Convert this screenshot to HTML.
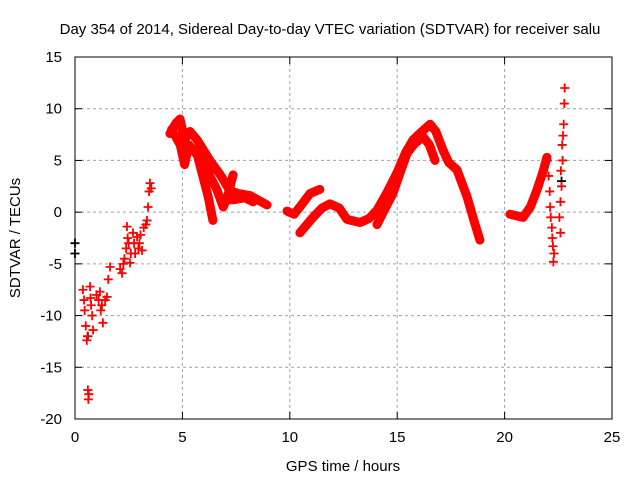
<!DOCTYPE html>
<html><head><meta charset="utf-8"><style>
body{margin:0;background:#fff;width:640px;height:480px;overflow:hidden}
svg{font-family:"Liberation Sans",sans-serif}
</style></head><body>
<svg id="chart" width="640" height="480">
<text x="330" y="34" font-size="15" text-anchor="middle">Day 354 of 2014, Sidereal Day-to-day VTEC variation (SDTVAR) for receiver salu</text>
<g id="grid"></g>
<g id="marks"></g>
<rect x="75" y="57" width="537" height="362" fill="none" stroke="#000" stroke-width="1"/>
<g id="ticks"></g>
<text x="343" y="471" font-size="15" text-anchor="middle">GPS time / hours</text>
<text transform="translate(20,238) rotate(-90)" font-size="15" text-anchor="middle">SDTVAR / TECUs</text>
</svg>
<script>
const xTicks=[0,5,10,15,20,25];
const yTicks=[15,10,5,0,-5,-10,-15,-20];
const trackA1=[[4.42,7.6],[4.7,8.6],[4.89,9.0],[5.1,7.0],[5.35,7.8],[5.68,7.0],[6.28,5.0],[6.8,3.5],[7.2,2.1],[7.6,1.8],[8.15,1.6],[8.94,0.7]];
const trackA2=[[4.5,8.0],[4.9,6.5],[5.1,4.6],[5.3,6.5],[5.7,5.5],[5.96,3.4],[6.2,1.5],[6.42,-0.8]];
const trackA3=[[5.6,6.0],[6.1,4.2],[6.6,2.2],[6.9,0.5],[7.1,1.5],[7.36,3.6]];
const trackA4=[[6.9,1.2],[7.4,1.2],[7.9,1.4],[8.3,1.0]];
const trackB=[[9.87,0.1],[10.2,-0.2],[10.47,0.5],[10.94,1.8],[11.4,2.2]];
const trackC=[[10.47,-2.0],[11.08,-0.5],[11.5,0.4],[11.87,0.8],[12.3,0.4],[12.66,-0.7],[13.27,-1.0],[13.7,-0.6],[14.06,0.2],[14.5,1.8],[14.99,3.8],[15.4,5.8],[15.74,7.0],[16.1,7.7],[16.53,8.5],[16.8,7.8],[17.13,6.0],[17.4,4.8],[17.78,4.1],[18.25,1.5],[18.6,-1.0],[18.85,-2.7]];
const trackD=[[14.06,-1.2],[14.4,0.2],[14.8,1.8],[15.1,3.6],[15.46,5.7],[15.8,6.6],[16.2,7.3],[16.5,6.5],[16.76,5.0]];
const trackE=[[20.25,-0.2],[20.86,-0.5],[21.2,0.5],[21.5,2.1],[21.8,4.0],[21.97,5.3]];
const redPlus=[[0.37,-7.5],[0.42,-8.5],[0.45,-9.5],[0.55,-12.4],[0.5,-11],[0.58,-12],[0.7,-7.2],[0.72,-8.3],[0.75,-9],[0.8,-10],[0.84,-11.4],[0.6,-17.2],[0.62,-18.1],[0.64,-17.6],[1.0,-8],[1.1,-8.5],[1.16,-7.7],[1.2,-9.5],[1.3,-10.7],[1.25,-9],[1.4,-8.5],[1.49,-8.2],[1.55,-6.5],[1.63,-5.3],[2.1,-5.5],[2.19,-5.9],[2.25,-5],[2.3,-4.5],[2.38,-3.5],[2.42,-1.4],[2.45,-2.5],[2.5,-3],[2.56,-4.9],[2.6,-4],[2.7,-2],[2.75,-3],[2.89,-2.4],[2.8,-4],[2.95,-3.5],[3.0,-3],[3.05,-2.2],[3.12,-3.7],[3.2,-1.5],[3.3,-1.2],[3.35,-0.8],[3.4,0.5],[3.45,2.0],[3.49,2.8],[3.55,2.3],
[22.0,5.0],[22.05,3.5],[22.1,2],[22.12,0.5],[22.15,-0.5],[22.2,-1.5],[22.22,-2.5],[22.25,-3.3],[22.27,-4.8],[22.3,-4],[22.6,-2],[22.55,-0.5],[22.6,1],[22.65,2.5],[22.62,4],[22.7,5],[22.68,6.5],[22.72,7.4],[22.75,8.5],[22.78,10.5],[22.8,12]];
const blackPlus=[[0.0,-3.0],[0.0,-4.0],[0.6,-12],[22.65,3]];
const X=t=>75+t*21.48, Y=v=>57+(15-v)*10.343;
const ns="http://www.w3.org/2000/svg";
const grid=document.getElementById('grid'),ticks=document.getElementById('ticks'),marks=document.getElementById('marks');
function mk(tag,attrs,parent){const e=document.createElementNS(ns,tag);for(const k in attrs)e.setAttribute(k,attrs[k]);parent.appendChild(e);return e;}
xTicks.forEach(t=>{
 if(t>0&&t<25){const g=mk('line',{x1:X(t),x2:X(t),y1:57,y2:419,stroke:'#a0a0a0','stroke-dasharray':'3,3'},grid);}
 mk('line',{x1:X(t),x2:X(t),y1:419,y2:412,stroke:'#000'},ticks);mk('line',{x1:X(t),x2:X(t),y1:57,y2:64,stroke:'#000'},ticks);
 const l=mk('text',{x:X(t),y:442,'font-size':15,'text-anchor':'middle'},ticks);l.textContent=t;
 
 
});
yTicks.forEach(v=>{
 if(v<15&&v>-20){const g=mk('line',{x1:75,x2:612,y1:Y(v),y2:Y(v),stroke:'#a0a0a0','stroke-dasharray':'3,3'},grid);}
 mk('line',{x1:75,x2:82,y1:Y(v),y2:Y(v),stroke:'#000'},ticks);mk('line',{x1:605,x2:612,y1:Y(v),y2:Y(v),stroke:'#000'},ticks);
 const l=mk('text',{x:62,y:Y(v)+5,'font-size':15,'text-anchor':'end'},ticks);l.textContent=v;
 
 
});
[trackA1,trackA2,trackA3,trackA4,trackB,trackC,trackD,trackE].forEach(tr=>{
 const p=mk('polyline',{points:tr.map(d=>X(d[0])+','+Y(d[1])).join(' '),fill:'none',stroke:'#f00','stroke-width':9,'stroke-linejoin':'round','stroke-linecap':'round'},marks);
 
 
});
function plus(d,c){const x=X(d[0]),y=Y(d[1]);
 const p=mk('path',{d:`M${x-4.5},${y}H${x+4.5}M${x},${y-4.5}V${y+4.5}`,stroke:c,'stroke-width':1.8},marks);
 
 }
blackPlus.forEach(d=>plus(d,'#000'));
redPlus.forEach(d=>plus(d,'#f00'));
</script>
</body></html>
